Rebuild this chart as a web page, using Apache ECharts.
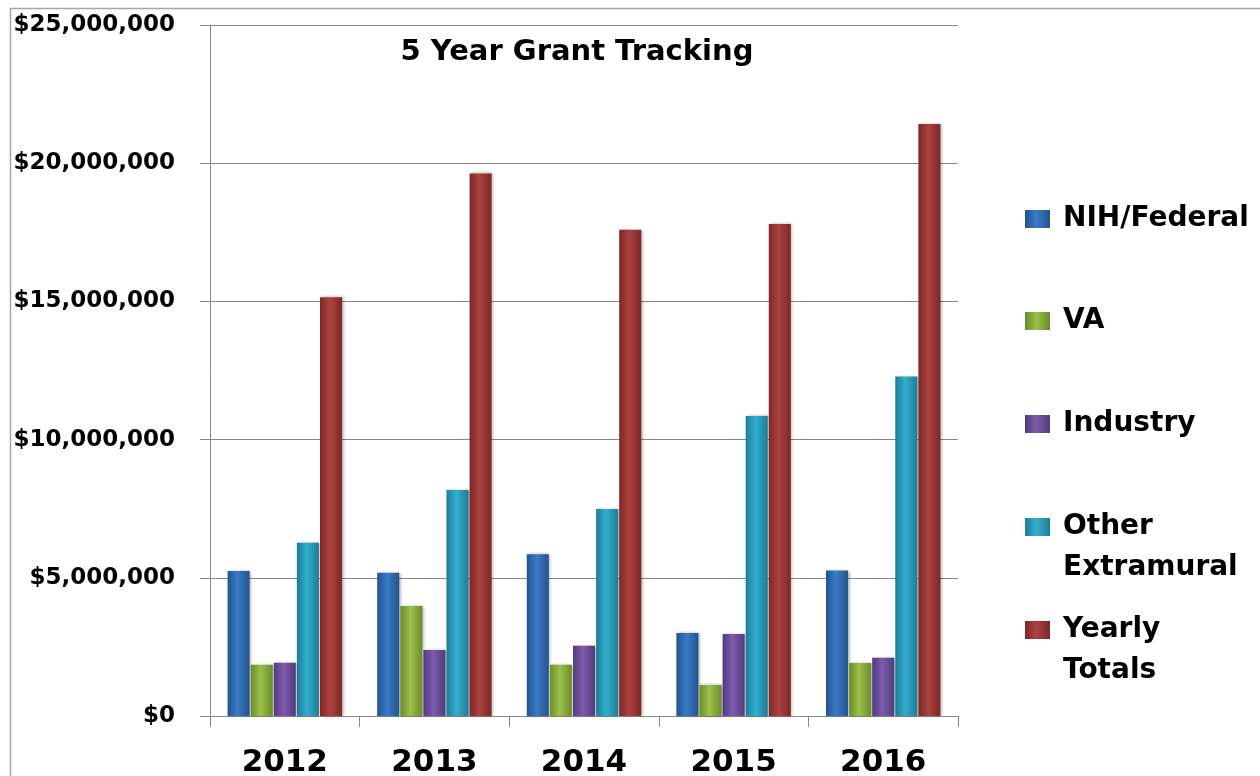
<!DOCTYPE html>
<html>
<head>
<meta charset="utf-8">
<script src="https://cdn.jsdelivr.net/npm/echarts@6/dist/echarts.min.js"></script>
<style>
html,body{margin:0;padding:0;background:#fff;}
#chart{width:1260px;height:776px;}
</style>
</head>
<body>
<div id="chart"></div>
<script>
// ---- data ----
const years = ['2012', '2013', '2014', '2015', '2016'];
const seriesNames = ['NIH/Federal', 'VA', 'Industry', 'Other Extramural', 'Yearly Totals'];
const nihFederal = [5250000, 5180000, 5850000, 3000000, 5260000];
const va = [1850000, 3980000, 1850000, 1120000, 1920000];
const industry = [1930000, 2390000, 2540000, 2970000, 2110000];
const otherExtramural = [6270000, 8180000, 7490000, 10850000, 12280000];
const yearlyTotals = [15150000, 19630000, 17590000, 17800000, 21420000];
const yTickValues = [0, 5000000, 10000000, 15000000, 20000000, 25000000];
const titleText = '5 Year Grant Tracking';

// ---- styles ----
const palette = [
  ['#22538f', '#3a7bc6', '#22538f'],
  ['#6c8b2a', '#9cc14a', '#6c8b2a'],
  ['#523a7c', '#7d5cae', '#523a7c'],
  ['#1c7c96', '#33afd0', '#1c7c96'],
  ['#7c2726', '#ad4240', '#7c2726']
];
function grad(c) {
  return new echarts.graphic.LinearGradient(0, 0, 1, 0, [
    {offset: 0, color: c[0]}, {offset: 0.45, color: c[1]}, {offset: 1, color: c[2]}
  ]);
}
const allData = [nihFederal, va, industry, otherExtramural, yearlyTotals];

const font = 'DejaVu Sans, Verdana, sans-serif';
const legendCenters = [219, 321, 424, 527, 630];
const lh = 41;

const chart = echarts.init(document.getElementById('chart'), null, {renderer: 'canvas'});

const legends = seriesNames.map((n, i) => {
  const twoLine = i >= 3;
  return {
    data: [n],
    orient: 'vertical',
    left: 1025,
    top: twoLine ? legendCenters[i] - lh * 1.5 : legendCenters[i] - lh / 2,
    padding: 0,
    itemWidth: 25,
    itemHeight: 18,
    icon: 'rect',
    selectedMode: false,
    formatter: function (name) {
      if (name === 'Other Extramural') return '\nOther\nExtramural';
      if (name === 'Yearly Totals') return '\nYearly\nTotals';
      return name;
    },
    textStyle: {
      fontFamily: font, fontWeight: 'bold', fontSize: 28, color: '#000',
      lineHeight: lh, padding: [0, 0, 0, 8]
    }
  };
});

const option = {
  backgroundColor: '#fff',
  animation: false,
  title: {
    text: titleText,
    left: 572, top: 47,
    textAlign: 'center', textVerticalAlign: 'middle',
    textStyle: {fontFamily: font, fontWeight: 'bold', fontSize: 29, color: '#000'}
  },
  legend: legends,
  grid: {left: 210, right: 302, top: 25, bottom: 60, containLabel: false, outerBoundsMode: 'none'},
  xAxis: {
    type: 'category',
    data: years,
    axisLine: {show: true, lineStyle: {color: '#888', width: 1}},
    axisTick: {show: true, length: 11, alignWithLabel: false, lineStyle: {color: '#888'}},
    axisLabel: {
      margin: 31, color: '#000', fontSize: 31, fontWeight: 'bold',
      fontFamily: font
    }
  },
  yAxis: {
    type: 'value',
    min: 0, max: 25000000, interval: 5000000,
    axisLine: {show: true, lineStyle: {color: '#888', width: 1}},
    axisTick: {show: true, length: 10, lineStyle: {color: '#888'}},
    splitLine: {show: true, lineStyle: {color: '#888', width: 1}},
    axisLabel: {
      margin: 35, color: '#000', fontSize: 23, fontWeight: 'bold', fontFamily: font,
      formatter: function (v) {
        return '$' + v.toString().replace(/\B(?=(\d{3})+(?!\d))/g, ',');
      }
    }
  },
  series: seriesNames.map((n, i) => ({
    name: n,
    type: 'bar',
    data: allData[i],
    barWidth: 22,
    barGap: '5%',
    itemStyle: {
      color: grad(palette[i]),
      shadowColor: 'rgba(0,0,0,0.35)',
      shadowBlur: 3,
      shadowOffsetX: 1.5,
      shadowOffsetY: 0
    }
  })),
  graphic: [{
    type: 'rect',
    shape: {x: 10.5, y: 8.5, width: 1400, height: 900},
    style: {fill: 'none', stroke: '#a6a6a6', lineWidth: 1.5},
    silent: true,
    z: -10
  }]
};
chart.setOption(option);
</script>
</body>
</html>
